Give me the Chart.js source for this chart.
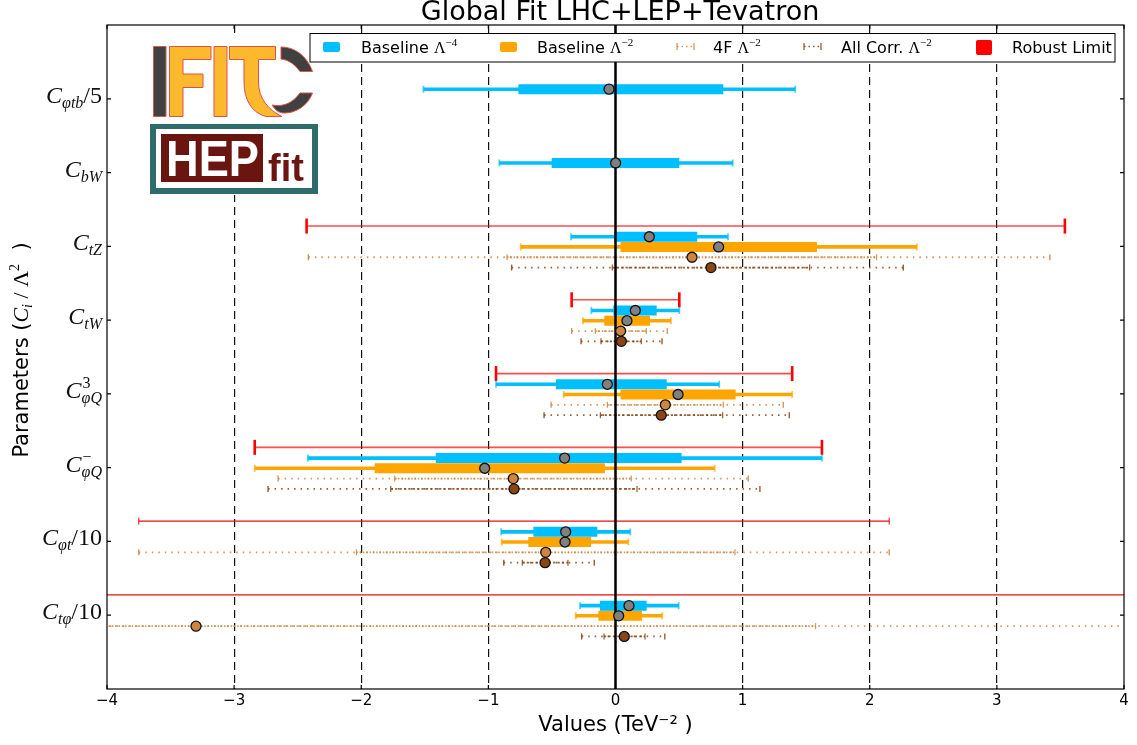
<!DOCTYPE html>
<html>
<head>
<meta charset="utf-8">
<title>Global Fit LHC+LEP+Tevatron</title>
<style>
  html, body { margin: 0; padding: 0; background: #fff; }
  canvas { display: block; }
</style>
<script src="https://cdn.jsdelivr.net/npm/chart.js@4"></script>
</head>
<body>
<canvas id="chart" width="1137" height="745"></canvas>
<script>
// Coefficients, top to bottom
const coeffSub = ["φtb", "bW", "tZ", "tW", "φQ", "φQ", "φt", "tφ"];
const coeffSup = ["", "", "", "", "3", "−", "", ""];
const coeffTail = ["/5", "", "", "", "", "", "/10", "/10"];
const xTicks = [-4, -3, -2, -1, 0, 1, 2, 3, 4];

// Robust limit
const robustLow = [null, null, -2.43, -0.345, -0.94, -2.838, -3.75, -5];
const robustHigh = [null, null, 3.535, 0.502, 1.39, 1.624, 2.153, 5];

// Baseline L^-4
const quarticLow95 = [-1.511, -0.914, -0.35, -0.19, -0.94, -2.42, -0.9, -0.279];
const quarticLow68 = [-0.764, -0.502, -0.01, -0.017, -0.468, -1.414, -0.646, -0.122];
const quarticMean = [-0.051, 0.001, 0.266, 0.156, -0.064, -0.4, -0.392, 0.106];
const quarticHigh68 = [0.848, 0.502, 0.643, 0.324, 0.403, 0.52, -0.143, 0.245];
const quarticHigh95 = [1.414, 0.922, 0.885, 0.502, 0.816, 1.624, 0.116, 0.497];

// Baseline L^-2
const quadLow95 = [null, null, -0.746, -0.256, -0.408, -2.838, -0.895, -0.313];
const quadLow68 = [null, null, 0.04, -0.088, 0.04, -1.894, -0.686, -0.135];
const quadMean = [null, null, 0.811, 0.09, 0.492, -1.029, -0.397, 0.025];
const quadHigh68 = [null, null, 1.585, 0.271, 0.945, -0.083, -0.193, 0.208];
const quadHigh95 = [null, null, 2.371, 0.436, 1.39, 0.78, 0.101, 0.368];

// 4F L^-2
const fourLow95 = [null, null, -2.416, -0.345, -0.507, -2.654, -3.75, -5];
const fourLow68 = [null, null, -0.853, -0.159, -0.064, -1.737, -2.038, -5];
const fourMean = [null, null, 0.602, 0.04, 0.392, -0.804, -0.549, -3.3];
const fourHigh68 = [null, null, 2.054, 0.242, 0.848, 0.124, 0.94, 1.574];
const fourHigh95 = [null, null, 3.417, 0.407, 1.32, 1.044, 2.153, 5];

// All Corr. L^-2
const allLow95 = [null, null, -0.817, -0.271, -0.562, -2.733, -0.879, -0.266];
const allLow68 = [null, null, -0.025, -0.114, -0.119, -1.768, -0.733, -0.09];
const allMean = [null, null, 0.751, 0.046, 0.36, -0.798, -0.554, 0.069];
const allHigh68 = [null, null, 1.527, 0.203, 0.843, 0.169, -0.374, 0.232];
const allHigh95 = [null, null, 2.264, 0.366, 1.367, 1.136, -0.167, 0.388];

const BLUE = "#00bfff";
const ORANGE = "#ffa500";
const RED = "#ff0000";
const PERU = "#cd853f";
const BROWN = "#8b4513";
const SANS = '"DejaVu Sans"';
const SERIF = '"Liberation Serif"';

// Rows sit around the tick of their coefficient
const SHIFT = { robust: -0.275, quartic: -0.13, quad: 0.008, four: 0.148, all: 0.288 };

function spanPoints(low, high, shift) {
  const pts = [];
  low.forEach((v, i) => {
    if (v === null) return;
    pts.push({ x: v, y: i + shift }, { x: high[i], y: i + shift }, { x: null, y: null });
  });
  return pts;
}

function endPoints(low, high, shift) {
  const pts = [];
  low.forEach((v, i) => {
    if (v === null) return;
    pts.push({ x: v, y: i + shift }, { x: high[i], y: i + shift });
  });
  return pts;
}

function meanPoints(values, shift) {
  return values.map((v, i) => (v === null ? null : { x: v, y: i + shift })).filter(Boolean);
}

function line(data, color, width, dash) {
  return {
    data, showLine: true, borderColor: color, borderWidth: width, borderDash: dash || [],
    pointRadius: 0, spanGaps: false, borderCapStyle: "butt",
  };
}

function caps(data, color, radius, width) {
  return {
    data, showLine: false, pointStyle: "line", rotation: 90, pointRadius: radius,
    pointBorderColor: color, pointBorderWidth: width, pointBackgroundColor: color,
  };
}

function dots(data, color) {
  return {
    data, showLine: false, pointStyle: "circle", pointRadius: 5,
    pointBackgroundColor: color, pointBorderColor: "#111", pointBorderWidth: 1.3,
  };
}

const FOUR_SOFT = "rgba(205,133,63,0.85)";
const ALL_SOFT = "rgba(139,69,19,0.88)";

// first dataset ends up on top in Chart.js
const datasets = [
  dots(meanPoints(quarticMean, SHIFT.quartic), "#808080"),
  dots(meanPoints(quadMean, SHIFT.quad), "#808080"),
  dots(meanPoints(fourMean, SHIFT.four), PERU),
  dots(meanPoints(allMean, SHIFT.all), BROWN),

  // zero line
  line([{ x: 0, y: -1 }, { x: 0, y: 8 }], "#000", 2.5),

  line(spanPoints(quarticLow68, quarticHigh68, SHIFT.quartic), BLUE, 10),
  line(spanPoints(quadLow68, quadHigh68, SHIFT.quad), ORANGE, 10),

  line(spanPoints(quarticLow95, quarticHigh95, SHIFT.quartic), BLUE, 3.6),
  line(spanPoints(quadLow95, quadHigh95, SHIFT.quad), ORANGE, 3.6),
  caps(endPoints(quarticLow95, quarticHigh95, SHIFT.quartic), "rgba(0,191,255,0.7)", 3.5, 1.8),
  caps(endPoints(quadLow95, quadHigh95, SHIFT.quad), "rgba(255,165,0,0.7)", 3.5, 1.8),

  line(spanPoints(fourLow68, fourHigh68, SHIFT.four), FOUR_SOFT, 1.8, [1.5, 1.8]),
  line(spanPoints(fourLow95, fourHigh95, SHIFT.four), FOUR_SOFT, 1.8, [1.5, 5]),
  caps(endPoints(fourLow68, fourHigh68, SHIFT.four), FOUR_SOFT, 3, 1.2),
  caps(endPoints(fourLow95, fourHigh95, SHIFT.four), FOUR_SOFT, 3, 1.4),

  line(spanPoints(allLow68, allHigh68, SHIFT.all), ALL_SOFT, 1.8, [2.2, 2.2]),
  line(spanPoints(allLow95, allHigh95, SHIFT.all), ALL_SOFT, 1.8, [1.5, 5]),
  caps(endPoints(allLow68, allHigh68, SHIFT.all), ALL_SOFT, 3, 1.2),
  caps(endPoints(allLow95, allHigh95, SHIFT.all), ALL_SOFT, 3, 1.4),

  // robust limit: the first four rows have heavy end marks, the last two thin ones
  line(spanPoints(robustLow.map((v, i) => (i < 6 ? v : null)), robustHigh, SHIFT.robust), "rgba(255,0,0,0.7)", 1.6),
  caps(endPoints(robustLow.map((v, i) => (i < 6 ? v : null)), robustHigh, SHIFT.robust), RED, 7.5, 2.6),
  line(spanPoints(robustLow.map((v, i) => (i >= 6 ? v : null)), robustHigh, SHIFT.robust), "#e81010", 1.2),
  caps(endPoints(robustLow.map((v, i) => (i >= 6 ? v : null)), robustHigh, SHIFT.robust), RED, 3.5, 1),
];

// text runs with different fonts and raised or lowered parts
function runWidth(ctx, runs) {
  let w = 0;
  runs.forEach(r => { ctx.font = r.font; w += ctx.measureText(r.t).width; });
  return w;
}

function drawRuns(ctx, x, y, runs) {
  runs.forEach(r => {
    ctx.font = r.font;
    ctx.fillText(r.t, x, y + (r.dy || 0));
    x += ctx.measureText(r.t).width;
  });
}

function drawCoeffLabels(ctx, yScale) {
  const big = "italic 24px " + SERIF;
  const small = "italic 16px " + SERIF;
  const right = 103;
  ctx.save();
  ctx.fillStyle = "#111";
  ctx.textAlign = "left";
  ctx.textBaseline = "alphabetic";
  coeffSub.forEach((sub, i) => {
    const base = yScale.getPixelForValue(i) + 4;
    ctx.font = "24px " + SERIF;
    const tailW = ctx.measureText(coeffTail[i]).width;
    ctx.font = small;
    const subW = ctx.measureText(sub).width;
    ctx.font = big;
    const cW = ctx.measureText("C").width;
    const left = right - tailW - subW - cW - 1;
    ctx.fillText("C", left, base);
    ctx.font = small;
    ctx.fillText(sub, left + cW, base + 5);
    if (coeffSup[i]) {
      ctx.font = "16px " + SERIF;
      ctx.fillText(coeffSup[i], left + cW + 1, base - 10);
    }
    if (coeffTail[i]) {
      ctx.font = "24px " + SERIF;
      ctx.fillText(coeffTail[i], left + cW + subW, base);
    }
  });
  ctx.restore();
}

function drawAxisTitleY(ctx) {
  const runs = [
    { t: "Parameters (", font: "21px " + SANS },
    { t: "C", font: "italic 22px " + SERIF },
    { t: "i", font: "italic 14px " + SERIF, dy: 4 },
    { t: " / ", font: "22px " + SERIF },
    { t: "Λ", font: "22px " + SERIF },
    { t: "2", font: "14px " + SERIF, dy: -9 },
    { t: "  )", font: "21px " + SANS },
  ];
  ctx.save();
  ctx.translate(28, 350);
  ctx.rotate(-Math.PI / 2);
  ctx.fillStyle = "#000";
  ctx.textAlign = "left";
  ctx.textBaseline = "alphabetic";
  drawRuns(ctx, -runWidth(ctx, runs) / 2, 0, runs);
  ctx.restore();
}

function drawFrame(chart) {
  const { ctx, chartArea: a, scales } = chart;
  ctx.save();
  ctx.strokeStyle = "#000";
  ctx.lineWidth = 1.2;
  ctx.strokeRect(a.left, a.top, a.right - a.left, a.bottom - a.top);
  ctx.beginPath();
  xTicks.forEach(v => {
    const x = scales.x.getPixelForValue(v);
    ctx.moveTo(x, a.top); ctx.lineTo(x, a.top + 4);
    ctx.moveTo(x, a.bottom); ctx.lineTo(x, a.bottom - 4);
  });
  coeffSub.forEach((s, i) => {
    const y = scales.y.getPixelForValue(i);
    ctx.moveTo(a.left, y); ctx.lineTo(a.left + 4, y);
    ctx.moveTo(a.right, y); ctx.lineTo(a.right - 4, y);
  });
  ctx.stroke();
  ctx.restore();
}

function drawLogos(ctx) {
  ctx.save();
  ctx.fillStyle = "#fff";
  ctx.fillRect(150, 37, 168, 158);

  // IFIT
  ctx.lineWidth = 1;
  ctx.strokeStyle = "#d9534f";
  ctx.lineJoin = "round";
  const dark = "#404040";
  const gold = "#fdb92d";
  const shapes = [
    [dark, "M153.5 46.5H166V116.5H153.5Z"],
    [gold, "M169.5 46.5H211V59.5H183V74H203V87.5H183V116.5H169.5Z"],
    [gold, "M214 46.5H227V116.5H214Z"],
    [gold, "M229.5 46.5H275.5V59.5H258.5V82C258.5 98 268 110 282 116.5H266C252 113 244 100 244 82V59.5H229.5Z"],
    [dark, "M281 47C295 47 307 56 312.5 71.5H300C296 66 290 60 281 59Z"],
    [dark, "M312.5 93C308 106 295 113 285 113C279 113 276 111 272 105C282 107 292 104 300 93Z"],
  ];
  shapes.forEach(s => {
    const p = new Path2D(s[1]);
    ctx.fillStyle = s[0];
    ctx.fill(p);
    ctx.stroke(p);
  });

  // HEPfit
  ctx.fillStyle = "#2f6b6b";
  ctx.fillRect(150, 124, 168, 70);
  ctx.fillStyle = "#fff";
  ctx.fillRect(156, 129, 156, 59);
  ctx.fillStyle = "#6b1510";
  ctx.fillRect(161, 134, 102, 48);
  ctx.textAlign = "left";
  ctx.textBaseline = "alphabetic";
  ctx.fillStyle = "#fff";
  ctx.font = "bold 50px " + '"Liberation Sans"';
  ctx.fillText("HEP", 166, 176, 93);
  ctx.fillStyle = "#6b1510";
  ctx.font = "bold 38px " + '"Liberation Sans"';
  ctx.fillText("fit", 268, 181, 39);
  ctx.restore();
}

function drawLegend(ctx) {
  const label = "16px " + SANS;
  const math = "16px " + SERIF;
  const sup = "11px " + SERIF;
  const entries = [
    { x: 361, runs: [{ t: "Baseline ", font: label }, { t: "Λ", font: math }, { t: "−4", font: sup, dy: -7 }] },
    { x: 537, runs: [{ t: "Baseline ", font: label }, { t: "Λ", font: math }, { t: "−2", font: sup, dy: -7 }] },
    { x: 713, runs: [{ t: "4F ", font: label }, { t: "Λ", font: math }, { t: "−2", font: sup, dy: -7 }] },
    { x: 841, runs: [{ t: "All Corr. ", font: label }, { t: "Λ", font: math }, { t: "−2", font: sup, dy: -7 }] },
    { x: 1012, runs: [{ t: "Robust Limit", font: label }] },
  ];
  ctx.save();
  ctx.fillStyle = "#fff";
  ctx.fillRect(310, 33.5, 805, 28.5);
  ctx.strokeStyle = "#000";
  ctx.lineWidth = 1;
  ctx.strokeRect(310, 33.5, 805, 28.5);

  ctx.fillStyle = BLUE;
  ctx.beginPath(); ctx.roundRect(323, 42, 17, 10, 2); ctx.fill();
  ctx.fillStyle = ORANGE;
  ctx.beginPath(); ctx.roundRect(500, 42, 17, 10, 2); ctx.fill();

  [[677, FOUR_SOFT], [804, ALL_SOFT]].forEach(m => {
    ctx.strokeStyle = m[1];
    ctx.lineWidth = 1.3;
    ctx.beginPath();
    ctx.moveTo(m[0], 43); ctx.lineTo(m[0], 50);
    ctx.moveTo(m[0] + 17, 43); ctx.lineTo(m[0] + 17, 50);
    ctx.stroke();
    ctx.setLineDash([1.5, 3]);
    ctx.beginPath();
    ctx.moveTo(m[0], 46.5); ctx.lineTo(m[0] + 17, 46.5);
    ctx.stroke();
    ctx.setLineDash([]);
  });

  ctx.fillStyle = RED;
  ctx.beginPath(); ctx.roundRect(976, 40, 16, 15, 2); ctx.fill();

  ctx.fillStyle = "#000";
  ctx.textAlign = "left";
  ctx.textBaseline = "alphabetic";
  entries.forEach(e => drawRuns(ctx, e.x, 53, e.runs));
  ctx.restore();
}

const decorations = {
  id: "decorations",
  afterDatasetsDraw(chart) {
    const ctx = chart.ctx;
    drawFrame(chart);
    drawLogos(ctx);
    drawLegend(ctx);
    drawCoeffLabels(ctx, chart.scales.y);
    drawAxisTitleY(ctx);

    ctx.save();
    ctx.fillStyle = "#000";
    ctx.font = "27px " + SANS;
    ctx.textAlign = "center";
    ctx.textBaseline = "alphabetic";
    ctx.fillText("Global Fit LHC+LEP+Tevatron", 620, 20);
    ctx.restore();
  },
};

new Chart(document.getElementById("chart"), {
  type: "scatter",
  data: { datasets },
  plugins: [decorations],
  options: {
    responsive: false,
    animation: false,
    devicePixelRatio: 1,
    layout: { padding: { top: 25, right: 13, bottom: 0, left: 0 } },
    plugins: { legend: { display: false }, tooltip: { enabled: false } },
    scales: {
      x: {
        type: "linear",
        min: -4,
        max: 4,
        afterFit(scale) { scale.height = 56; },
        afterBuildTicks(scale) { scale.ticks = xTicks.map(value => ({ value })); },
        grid: {
          display: true,
          color: ctx => (Math.abs(ctx.tick.value) === 4 || ctx.tick.value === 0 ? "transparent" : "#111"),
          lineWidth: 1.2,
          drawTicks: false,
        },
        border: { display: false, dash: [8, 5] },
        ticks: {
          color: "#000",
          padding: 3,
          maxRotation: 0,
          font: { family: "DejaVu Sans", size: 15 },
          callback: v => String(v).replace("-", "−"),
        },
        title: {
          display: true,
          text: "Values (TeV⁻² )",
          color: "#000",
          font: { family: "DejaVu Sans", size: 21 },
          padding: { top: 0, bottom: 7 },
        },
      },
      y: {
        type: "linear",
        reverse: true,
        min: -1,
        max: 8,
        afterFit(scale) { scale.width = 107; },
        grid: { display: false, drawTicks: false },
        border: { display: false },
        ticks: { display: false, stepSize: 1 },
      },
    },
  },
});
</script>
</body>
</html>
